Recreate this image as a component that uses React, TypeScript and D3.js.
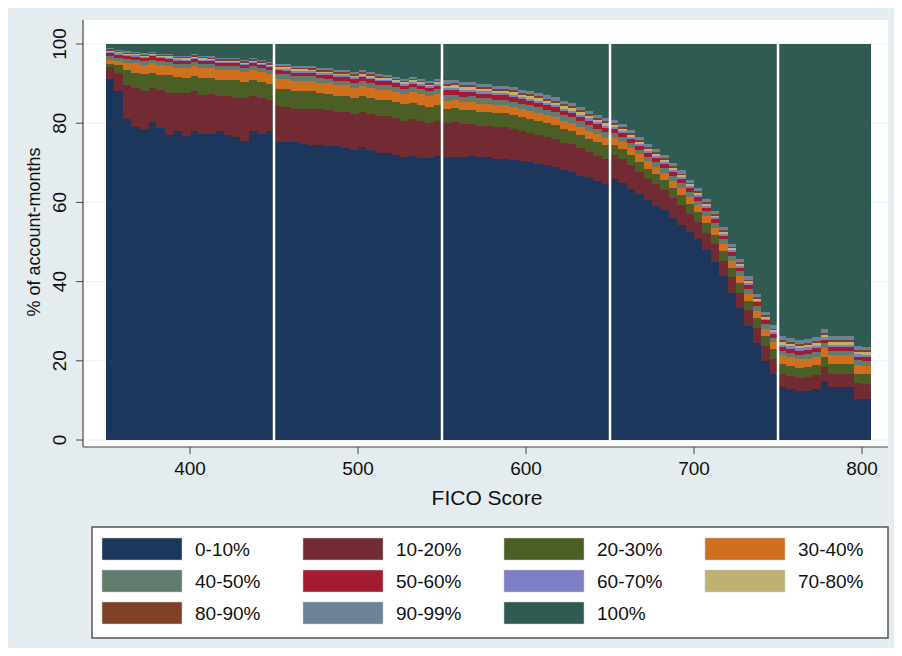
import { useEffect, useRef } from "react";
import * as d3 from "d3";

// bins of 5 FICO points, 350 to 805
const binStarts = d3.range(350, 805, 5);

const labels = ["0-10%", "10-20%", "20-30%", "30-40%", "40-50%", "50-60%", "60-70%", "70-80%", "80-90%", "90-99%", "100%"];
const colors = ["#1c365c", "#722b32", "#4a5e26", "#d0701e", "#627b6c", "#a31a31", "#7e7ec4", "#bdb272", "#804128", "#6d8198", "#2f5b53"];

const rep = (v: number, n: number) => Array(n).fill(v);

const share0_10 = [
  94, 93, 86, 82, 83, 84, 82, 79, 80, 78, 79, 78, 77, 78, 77, 77, 76, 78, 77, 78,
  75.5, 75, 75, 74.5, 74, 73.5, 73, 73, 72.5, 72, 72, 71.5, 71, 70.5, 70, 69.5, 69.5, 69, 69, 69.5,
  70, 70.5, 70.5, 71, 71, 71, 71, 71, 71, 70.5, 70.5, 70, 69.5, 69, 68.5, 68, 67, 66.5, 66, 65.5,
  65, 64, 62.5, 61, 60, 59, 58, 56, 54.5, 53, 51.5, 49, 46.5, 42.5, 38, 34, 29.5, 25, 20.5, 17,
  13.5, 13, 12.5, 12.5, 13, 15, 13.5, 13.5, 13.5, 10.5, 10.5,
];
const share10_20 = [
  3, 5, 9, 10, 10, 9, 10, 11, 10, 11, 10, 10, 10, 9, 10, 10, 11, 9, 9, 8,
  9, 9, 8.5, 9, 9, 9, 9, 8.5, 9, 9, 8.5, 9, 9, 9, 9, 9, 9, 9, 8.5, 8.5,
  8.5, 8.5, 8, 8, 8, 8, 8, 8, 8, 7.5, 7.5, 7.5, 7, 7, 7, 7, 7, 6.5, 6.5, 6.5,
  6, 6, 6, 5.5, 5.5, 5.5, 5, 5, 5, 4.5, 4.5, 4.5, 4.5, 4, 4, 4, 4, 4, 4, 4,
  3.5, 3.5, 3.5, 3.5, 3.5, 3.5, 3.5, 3.5, 3.5, 4, 4,
];
const share20_30 = [
  1, 2, 4, 4, 4.5, 4, 4, 4.5, 4, 4, 4, 4.5, 4, 4, 4, 4.5, 4, 4, 4, 4,
  ...rep(4.5, 5), ...rep(4, 15),
  ...rep(3.5, 20),
  ...rep(2.5, 20),
  ...rep(2.5, 11),
];
const share30_40 = [1, 1, 2, 2.5, 2.5, 2.5, 2.5, 2.5, 2.5, 2.5, 2.5, 2.5, 2.5, 2.5, 2.5, 2.5, 2.5, 2.5, 2.5, 2.5,
  ...rep(2.5, 20), ...rep(2, 20), ...rep(1.8, 20), ...rep(2.2, 11)];
const share40_50 = [...rep(1, 20), ...rep(1.2, 20), ...rep(1.4, 20), ...rep(1.2, 20), ...rep(1.2, 11)];
const share50_60 = [...rep(0.8, 20), ...rep(0.9, 20), ...rep(1.1, 20), ...rep(1.0, 20), ...rep(1.0, 11)];
const share60_70 = [...rep(0.3, 20), ...rep(0.4, 20), ...rep(0.6, 20), ...rep(0.5, 20), ...rep(0.6, 11)];
const share70_80 = [...rep(0.3, 20), ...rep(0.4, 20), ...rep(0.6, 20), ...rep(0.5, 20), ...rep(0.6, 11)];
const share80_90 = [...rep(0.3, 20), ...rep(0.4, 20), ...rep(0.5, 20), ...rep(0.4, 20), ...rep(0.5, 11)];
const share90_99 = [...rep(0.4, 20), ...rep(0.5, 20), ...rep(0.8, 20), ...rep(0.8, 20), ...rep(1.0, 11)];
const share100 = [
  1, 1.5, 2, 2, 2.5, 2, 2.5, 2.5, 3, 3, 2.5, 3, 3, 3.5, 3.5, 3.5, 4, 3.5, 4, 4.5,
  5, 5, 5.5, 5.5, 5.5, 6, 6, 6.5, 6.5, 7, 6.5, 7, 7.5, 7.5, 8, 8.5, 8, 8.5, 9, 8.5,
  9, 9, 9.5, 9.5, 10, 10, 10.5, 10.5, 11, 11.5, 12, 12.5, 13, 13.5, 14.5, 15, 16, 17, 18, 19,
  19, 20, 21.5, 23, 25, 26.5, 28, 30, 32, 34.5, 37, 40, 43.5, 47.5, 51.5, 55.5, 60, 64.5, 69.5, 73,
  75, 75.5, 76, 75, 74.5, 72, 75, 75, 75, 77.5, 78,
];

const series = [share0_10, share10_20, share20_30, share30_40, share40_50, share50_60, share60_70, share70_80, share80_90, share90_99, share100];
const xTicks = [400, 500, 600, 700, 800];
const yTicks = [0, 20, 40, 60, 80, 100];
const dividers = [450, 550, 650, 750];

const App = () => {
  const ref = useRef<SVGSVGElement>(null);

  useEffect(() => {
    const svg = d3.select(ref.current);
    svg.selectAll("*").remove();
    const W = 902, H = 656;
    const font = "'Liberation Sans', Arial, sans-serif";

    svg.append("rect").attr("x", 0).attr("y", 0).attr("width", W).attr("height", H).attr("fill", "#fff");
    svg.append("rect").attr("x", 5).attr("y", 5).attr("width", W - 10).attr("height", H - 10).attr("fill", "#e5ecef");
    svg.append("rect").attr("x", 83).attr("y", 20).attr("width", 805).attr("height", 427).attr("fill", "#fff");

    const x = d3.scaleLinear().domain([400, 800]).range([190, 862]);
    const y = d3.scaleLinear().domain([0, 1]).range([440, 44]);

    // faint grid
    svg.selectAll(".grid").data(yTicks).join("line")
      .attr("x1", 83).attr("x2", 888)
      .attr("y1", (d) => y(d / 100)).attr("y2", (d) => y(d / 100))
      .attr("stroke", "#eaf0f2").attr("stroke-width", 1);

    const rows = binStarts.map((b, i) => {
      const r: any = { b };
      labels.forEach((l, k) => (r[l] = series[k][i]));
      return r;
    });
    const stacked = d3.stack().keys(labels).offset(d3.stackOffsetExpand)(rows);

    const g = svg.append("g").attr("shape-rendering", "crispEdges");
    stacked.forEach((layer, k) => {
      g.selectAll(null).data(layer).join("rect")
        .attr("x", (d: any) => x(d.data.b))
        .attr("width", (d: any) => x(d.data.b + 5) - x(d.data.b) + 0.5)
        .attr("y", (d) => y(d[1]))
        .attr("height", (d) => y(d[0]) - y(d[1]))
        .attr("fill", colors[k]);
    });

    svg.selectAll(".div").data(dividers).join("line")
      .attr("x1", (d) => x(d)).attr("x2", (d) => x(d))
      .attr("y1", 44).attr("y2", 440)
      .attr("stroke", "#fff").attr("stroke-width", 2.5);

    // y axis
    svg.append("line").attr("x1", 83).attr("x2", 83).attr("y1", 20).attr("y2", 447).attr("stroke", "#444").attr("stroke-width", 1.2);
    yTicks.forEach((t) => {
      const yy = y(t / 100);
      svg.append("line").attr("x1", 76).attr("x2", 83).attr("y1", yy).attr("y2", yy).attr("stroke", "#444");
      svg.append("text").attr("transform", `translate(66,${yy}) rotate(-90)`)
        .attr("text-anchor", "middle").attr("font-family", font).attr("font-size", 19).attr("fill", "#111")
        .text(t);
    });
    svg.append("text").attr("transform", `translate(40,232) rotate(-90)`)
      .attr("text-anchor", "middle").attr("font-family", font).attr("font-size", 18).attr("fill", "#111")
      .text("% of account-months");

    // x axis
    svg.append("line").attr("x1", 83).attr("x2", 888).attr("y1", 447).attr("y2", 447).attr("stroke", "#444").attr("stroke-width", 1.2);
    xTicks.forEach((t) => {
      svg.append("line").attr("x1", x(t)).attr("x2", x(t)).attr("y1", 447).attr("y2", 454).attr("stroke", "#444");
      svg.append("text").attr("x", x(t)).attr("y", 475)
        .attr("text-anchor", "middle").attr("font-family", font).attr("font-size", 19).attr("fill", "#111")
        .text(t);
    });
    svg.append("text").attr("x", 487).attr("y", 505)
      .attr("text-anchor", "middle").attr("font-family", font).attr("font-size", 21).attr("fill", "#111")
      .text("FICO Score");

    // legend
    svg.append("rect").attr("x", 92).attr("y", 527).attr("width", 796).attr("height", 111)
      .attr("fill", "#fff").attr("stroke", "#555").attr("stroke-width", 1.5);
    labels.forEach((l, k) => {
      const col = k % 4, row = Math.floor(k / 4);
      const lx = 102 + col * 201, ly = 538 + row * 32;
      svg.append("rect").attr("x", lx).attr("y", ly).attr("width", 80).attr("height", 22)
        .attr("fill", colors[k]).attr("stroke", "#ccc").attr("stroke-width", 0.5);
      svg.append("text").attr("x", lx + 93).attr("y", ly + 18)
        .attr("font-family", font).attr("font-size", 19).attr("fill", "#111").text(l);
    });
  }, []);

  return <svg ref={ref} width={902} height={656} style={{ display: "block", margin: -8 }} />;
};

export default App;
